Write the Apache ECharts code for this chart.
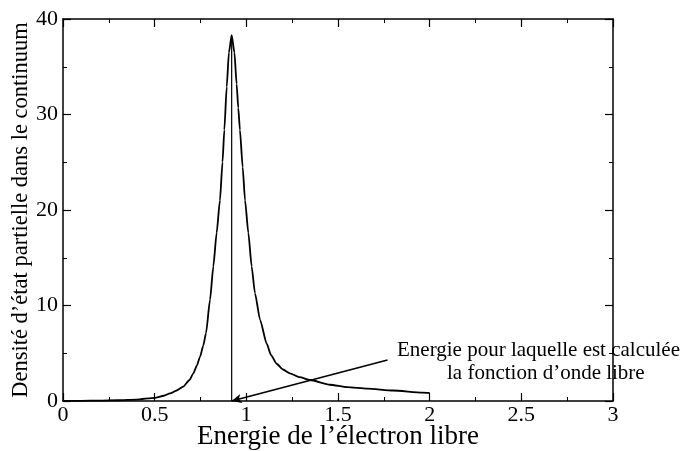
<!DOCTYPE html>
<html>
<head>
<meta charset="utf-8">
<script src="https://cdn.jsdelivr.net/npm/echarts@6/dist/echarts.min.js"></script>
<style>
  html, body { margin: 0; padding: 0; background: #fff; }
  #chart { width: 681px; height: 451px; }
</style>
</head>
<body>
<div id="chart"></div>
<script>
// Partial density of states in the continuum vs. free-electron energy
const energy = [0, 0.1, 0.2, 0.3, 0.4, 0.5, 0.55, 0.584, 0.62, 0.656, 0.69, 0.711, 0.73, 0.747, 0.765, 0.78, 0.802, 0.82, 0.838,
  0.856, 0.87, 0.88, 0.893, 0.905, 0.92, 0.935, 0.947, 0.956, 0.965, 0.98, 0.993, 1.011, 1.029, 1.047, 1.075, 1.111, 1.135,
  1.165, 1.2, 1.238, 1.29, 1.347, 1.456, 1.55, 1.66, 1.8, 1.96, 2.0];
const density = [0, 0.02, 0.04, 0.08, 0.15, 0.33, 0.55, 0.8, 1.1, 1.5, 2.2, 2.9, 3.7, 4.6, 5.8, 7.1, 10.6, 14.1, 17.6,
  21.0, 25.0, 28.4, 32.9, 36.5, 38.3, 36.5, 33.2, 30.7, 28.4, 24.5, 21.0, 17.6, 14.1, 11.3, 8.5, 6.0, 4.8,
  3.9, 3.3, 2.9, 2.5, 2.2, 1.7, 1.45, 1.3, 1.1, 0.88, 0.85];

// Energy at which the free wave function is computed
const freeEnergy = 0.92;
const freePeak = 38;
// Annotation arrow start (energy, density) and text
const arrowFrom = [1.77, 4.3];
const noteLines = ['Energie pour laquelle est calculée', 'la fonction d’onde libre'];

const xRange = { min: 0, max: 3, interval: 0.5 };
const yRange = { min: 0, max: 40, interval: 10 };

const serif = '"Liberation Serif", "Times New Roman", serif';

function fmtX(v) { return String(Math.round(v * 10) / 10); }

function axisBase(opts) {
  return Object.assign({
    type: 'value',
    nameMoveOverlap: false,
    axisLine: { show: true, onZero: false, lineStyle: { color: '#000', width: 1.5 } },
    axisTick: { show: true, inside: true, length: 8, lineStyle: { color: '#000', width: 1.2 } },
    minorTick: { show: true, splitNumber: 2, length: 4, lineStyle: { color: '#000', width: 1 } },
    splitLine: { show: false },
    minorSplitLine: { show: false }
  }, opts);
}

const chart = echarts.init(document.getElementById('chart'), null, { renderer: 'canvas' });

const curve = energy.map((e, i) => [e, density[i]]);

chart.setOption({
  animation: false,
  backgroundColor: '#fff',
  grid: { left: 63, right: 68, top: 19, bottom: 50, containLabel: false, outerBoundsMode: 'none' },
  xAxis: [
    axisBase(Object.assign({}, xRange, {
      position: 'bottom',
      name: 'Energie de l’électron libre',
      nameLocation: 'middle',
      nameGap: 22,
      nameTextStyle: { fontFamily: serif, fontSize: 27, color: '#000', verticalAlign: 'top' },
      axisLabel: { show: true, margin: 3, fontFamily: serif, fontSize: 22, color: '#000', formatter: fmtX }
    })),
    axisBase(Object.assign({}, xRange, {
      position: 'top',
      axisLabel: { show: false }
    }))
  ],
  yAxis: [
    axisBase(Object.assign({}, yRange, {
      position: 'left',
      name: 'Densité d’état partielle dans le continuum',
      nameLocation: 'middle',
      nameGap: 30,
      nameRotate: 90,
      nameTextStyle: { fontFamily: serif, fontSize: 22.5, color: '#000' },
      axisLabel: { show: true, margin: 5, fontFamily: serif, fontSize: 22, color: '#000' }
    })),
    axisBase(Object.assign({}, yRange, {
      position: 'right',
      axisLabel: { show: false }
    }))
  ],
  series: [
    {
      type: 'line',
      data: curve,
      xAxisIndex: 0, yAxisIndex: 0,
      showSymbol: false,
      smooth: 0.2,
      smoothMonotone: 'x',
      lineStyle: { color: '#000', width: 1.8 },
      z: 3
    },
    {
      type: 'line',
      data: [[freeEnergy, 0], [freeEnergy, freePeak]],
      xAxisIndex: 0, yAxisIndex: 0,
      showSymbol: false,
      lineStyle: { color: '#000', width: 1.2 },
      z: 2,
      markLine: {
        silent: true,
        symbol: ['none', 'arrow'],
        symbolSize: [7, 10],
        label: { show: false },
        lineStyle: { color: '#000', width: 1.6, type: 'solid' },
        data: [[{ coord: arrowFrom }, { coord: [freeEnergy, 0] }]]
      }
    }
  ],
  graphic: [
    {
      type: 'text', left: 397, top: 340, z: 1,
      style: { text: noteLines[0], font: '21px ' + serif, fill: '#000' }
    },
    {
      type: 'text', left: 447, top: 363, z: 1,
      style: { text: noteLines[1], font: '21px ' + serif, fill: '#000' }
    }
  ]
});
</script>
</body>
</html>
